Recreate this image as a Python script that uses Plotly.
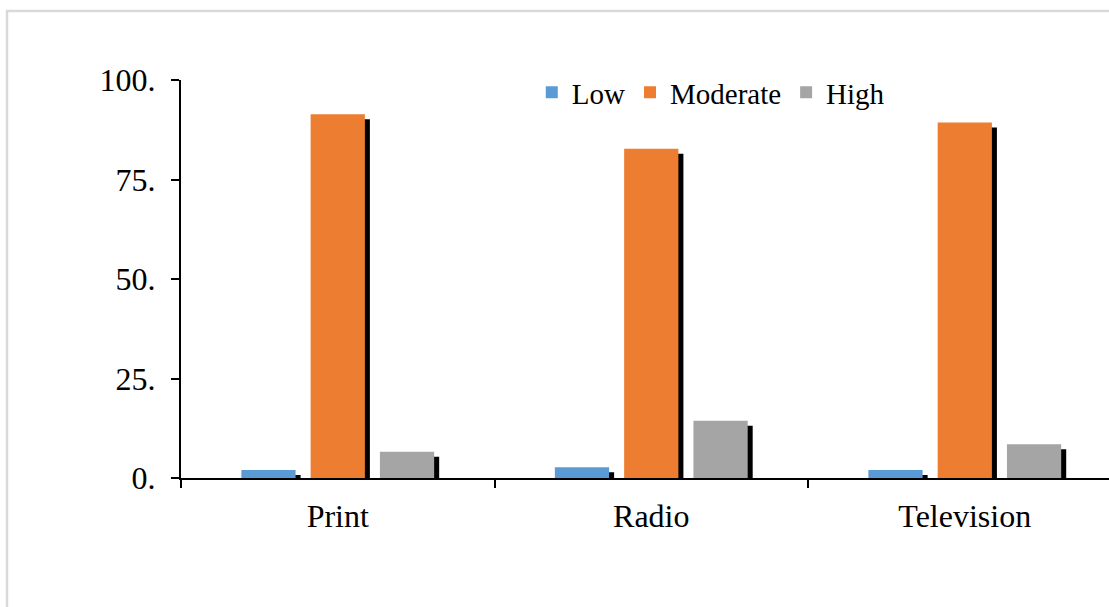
import plotly.graph_objects as go

categories = ["Print", "Radio", "Television"]
low = [2.0, 2.7, 2.0]
moderate = [91.4, 82.7, 89.3]
high = [6.6, 14.4, 8.5]

series = [
    ("Low", low, "#5B9BD5"),
    ("Moderate", moderate, "#ED7D31"),
    ("High", high, "#A5A5A5"),
]

bar_w = 0.173
step = 0.221
shadow_dx = 0.016
shadow_dy = 1.26

FONT = "Liberation Serif"

fig = go.Figure()

# shadows first (behind)
for i, (name, vals, col) in enumerate(series):
    off = (i - 1) * step - bar_w / 2
    fig.add_trace(go.Bar(
        x=categories, y=vals, base=[-shadow_dy] * len(vals),
        width=bar_w, offset=off + shadow_dx,
        marker=dict(color="black", line=dict(width=0)),
        showlegend=False, hoverinfo="skip",
    ))

for i, (name, vals, col) in enumerate(series):
    off = (i - 1) * step - bar_w / 2
    fig.add_trace(go.Bar(
        x=categories, y=vals, name=name,
        width=bar_w, offset=off,
        marker=dict(color=col, line=dict(width=0)),
    ))

fig.update_layout(
    width=1109, height=607,
    barmode="overlay",
    paper_bgcolor="white", plot_bgcolor="white",
    margin=dict(l=181, r=0, t=80, b=129),
    font=dict(family=FONT, size=29, color="black"),
    legend=dict(orientation="h", x=0.378, xanchor="left", y=1.033, yanchor="top",
                font=dict(family=FONT, size=29, color="black"),
                bgcolor="rgba(0,0,0,0)", traceorder="normal"),
    shapes=[dict(type="rect", xref="paper", yref="paper",
                 x0=(7 - 181) / 928, x1=1.1, y0=-0.5, y1=(478 - 11) / 398,
                 line=dict(color="#d9d9d9", width=2.5), fillcolor="rgba(0,0,0,0)",
                 layer="below")],
)

fig.update_xaxes(
    type="category", range=[-0.5, 2.46],
    showline=True, linecolor="black", linewidth=2,
    ticks="outside", tickson="boundaries", ticklen=8, tickcolor="black", tickwidth=2,
    showgrid=False, zeroline=False,
    tickfont=dict(family=FONT, size=32, color="black"),
    ticklabelstandoff=9,
)
fig.update_yaxes(
    range=[0, 100],
    tickvals=[0, 25, 50, 75, 100],
    ticktext=["0.", "25.", "50.", "75.", "100."],
    showline=True, linecolor="black", linewidth=2,
    ticks="outside", ticklen=8, tickcolor="black", tickwidth=2,
    showgrid=False, zeroline=False,
    tickfont=dict(family=FONT, size=32, color="black"),
    ticklabelstandoff=9,
)

fig.write_html("out.html", config={"displayModeBar": False},
               post_script="document.body.style.margin='0';")
